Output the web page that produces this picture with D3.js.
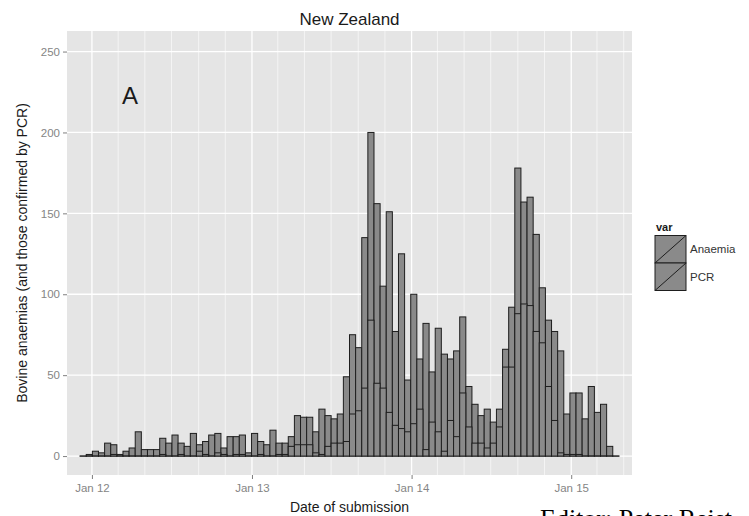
<!DOCTYPE html>
<html>
<head>
<meta charset="utf-8">
<script src="https://cdn.jsdelivr.net/npm/d3@7"></script>
<style>
  body { margin: 0; background: #fff; }
  svg { display: block; font-family: "Liberation Sans", Arial, sans-serif; }
</style>
</head>
<body>
<div id="chart"></div>
<script>
// fortnightly bins, first one starting 5 Dec 2011
const binStart = new Date(2011, 11, 5);
const binDays = 14;

// total anaemia submissions per fortnight
const anaemia = [
  0, 1, 3, 2, 8, 7, 1, 3, 5, 15,
  4, 4, 4, 11, 8, 13, 8, 6, 14, 7,
  9, 13, 14, 5, 12, 12, 13, 2, 14, 9,
  7, 16, 8, 8, 12, 25, 24, 24, 15, 29,
  25, 23, 26, 49, 75, 67, 135, 200, 156, 105,
  151, 77, 125, 47, 100, 60, 82, 52, 79, 63,
  60, 65, 86, 43, 32, 25, 29, 21, 29, 66,
  92, 178, 157, 160, 137, 104, 84, 77, 65, 26,
  39, 39, 23, 43, 27, 32, 6, 0
];

// of which confirmed by PCR
const pcr = [
  0, 0, 0, 0, 0, 1, 0, 0, 0, 0,
  0, 0, 0, 1, 0, 0, 1, 0, 0, 3,
  1, 0, 2, 1, 0, 1, 1, 0, 0, 1,
  0, 0, 1, 1, 6, 7, 7, 7, 2, 1,
  6, 8, 8, 9, 26, 28, 42, 84, 45, 42,
  27, 19, 17, 15, 20, 29, 4, 21, 15, 3,
  22, 12, 39, 18, 8, 8, 5, 8, 18, 55,
  55, 88, 94, 93, 77, 70, 43, 22, 2, 1,
  1, 1, 0, 0, 0, 0, 0, 0
];

const seriesNames = ["Anaemia", "PCR"];
const yTicks = [0, 50, 100, 150, 200, 250];
const xTicks = [new Date(2012, 0, 1), new Date(2013, 0, 1), new Date(2014, 0, 1), new Date(2015, 0, 1)];

const width = 749, height = 516;
const panel = {left: 67, right: 632, top: 31, bottom: 475};
const barFill = "#8a8a8a", barStroke = "#1e1e1e";

const svg = d3.select("#chart").append("svg")
  .attr("width", width)
  .attr("height", height);

const x = d3.scaleTime()
  .domain([new Date(2011, 10, 5), new Date(2015, 4, 20)])
  .range([panel.left, panel.right]);

const y = d3.scaleLinear()
  .domain([-11.7, 262.7])
  .range([panel.bottom, panel.top]);

// panel background
svg.append("rect")
  .attr("x", panel.left).attr("y", panel.top)
  .attr("width", panel.right - panel.left)
  .attr("height", panel.bottom - panel.top)
  .attr("fill", "#e5e5e5");

// minor vertical grid every 2 months
const minorX = d3.timeMonth.every(2).range(x.domain()[0], x.domain()[1])
  .filter(d => d.getMonth() !== 0);
svg.append("g").selectAll("line").data(minorX).join("line")
  .attr("x1", d => x(d)).attr("x2", d => x(d))
  .attr("y1", panel.top).attr("y2", panel.bottom)
  .attr("stroke", "#f4f4f4").attr("stroke-width", 1);

// major grid
svg.append("g").selectAll("line").data(xTicks).join("line")
  .attr("x1", d => x(d)).attr("x2", d => x(d))
  .attr("y1", panel.top).attr("y2", panel.bottom)
  .attr("stroke", "#fff").attr("stroke-width", 1.3);

svg.append("g").selectAll("line").data(yTicks).join("line")
  .attr("x1", panel.left).attr("x2", panel.right)
  .attr("y1", d => y(d)).attr("y2", d => y(d))
  .attr("stroke", "#fff").attr("stroke-width", 1.3);

// bins
const bins = anaemia.map((v, i) => ({
  start: d3.timeDay.offset(binStart, i * binDays),
  end: d3.timeDay.offset(binStart, (i + 1) * binDays),
  anaemia: v,
  pcr: pcr[i]
}));

// PCR bars are drawn over the anaemia bars (same style, so they show as inner lines)
function drawBars(key) {
  svg.append("g").selectAll("rect").data(bins).join("rect")
    .attr("x", d => x(d.start))
    .attr("width", d => x(d.end) - x(d.start))
    .attr("y", d => y(d[key]))
    .attr("height", d => Math.max(y(0) - y(d[key]), 0.01))
    .attr("fill", barFill)
    .attr("stroke", barStroke)
    .attr("stroke-width", 1);
}
drawBars("anaemia");
drawBars("pcr");

// axes
const xAxis = svg.append("g")
  .attr("transform", `translate(0,${panel.bottom})`)
  .call(d3.axisBottom(x).tickValues(xTicks).tickFormat(d3.timeFormat("%b %y")).tickSize(4).tickPadding(5));

const yAxis = svg.append("g")
  .attr("transform", `translate(${panel.left},0)`)
  .call(d3.axisLeft(y).tickValues(yTicks).tickSize(4).tickPadding(3));

[xAxis, yAxis].forEach(g => {
  g.select(".domain").remove();
  g.selectAll(".tick line").attr("stroke", "#7f7f7f");
  g.selectAll(".tick text").attr("fill", "#858585").attr("font-size", 11.5)
    .attr("font-family", "Liberation Sans, Arial, sans-serif");
});

// titles
svg.append("text")
  .attr("x", (panel.left + panel.right) / 2).attr("y", 25)
  .attr("text-anchor", "middle").attr("font-size", 17).attr("fill", "#1a1a1a")
  .text("New Zealand");

svg.append("text")
  .attr("x", (panel.left + panel.right) / 2).attr("y", 512)
  .attr("text-anchor", "middle").attr("font-size", 14).attr("fill", "#1a1a1a")
  .text("Date of submission");

svg.append("text")
  .attr("transform", `translate(27,${(panel.top + panel.bottom) / 2}) rotate(-90)`)
  .attr("text-anchor", "middle").attr("font-size", 14).attr("fill", "#1a1a1a")
  .text("Bovine anaemias (and those confirmed by PCR)");

// panel label
svg.append("text")
  .attr("x", x(new Date(2012, 2, 28))).attr("y", y(223))
  .attr("text-anchor", "middle").attr("dominant-baseline", "central")
  .attr("font-size", 24).attr("fill", "#1a1a1a")
  .text("A");

// legend
const legend = svg.append("g").attr("transform", "translate(655,0)");
legend.append("text")
  .attr("x", 1).attr("y", 231)
  .attr("font-size", 11).attr("font-weight", "bold").attr("fill", "#1a1a1a")
  .text("var");

const keyW = 31, keyH = 27.5, keyTop = 235.5;
const keys = legend.selectAll("g.key").data(seriesNames).join("g")
  .attr("class", "key")
  .attr("transform", (d, i) => `translate(0,${keyTop + i * keyH})`);
keys.append("rect")
  .attr("width", keyW).attr("height", keyH)
  .attr("fill", barFill).attr("stroke", barStroke).attr("stroke-width", 1);
keys.append("line")
  .attr("x1", 0).attr("y1", keyH).attr("x2", keyW).attr("y2", 0)
  .attr("stroke", barStroke).attr("stroke-width", 1);
keys.append("text")
  .attr("x", keyW + 4).attr("y", keyH / 2 + 4)
  .attr("font-size", 11.5).attr("fill", "#333")
  .text(d => d);

// caption, cut off by the bottom edge as in the source
svg.append("text")
  .attr("x", 540).attr("y", 527)
  .attr("font-family", "Liberation Serif, Times New Roman, serif")
  .attr("font-size", 26).attr("fill", "#000")
  .text("Editor: Peter Reist");
</script>
</body>
</html>
